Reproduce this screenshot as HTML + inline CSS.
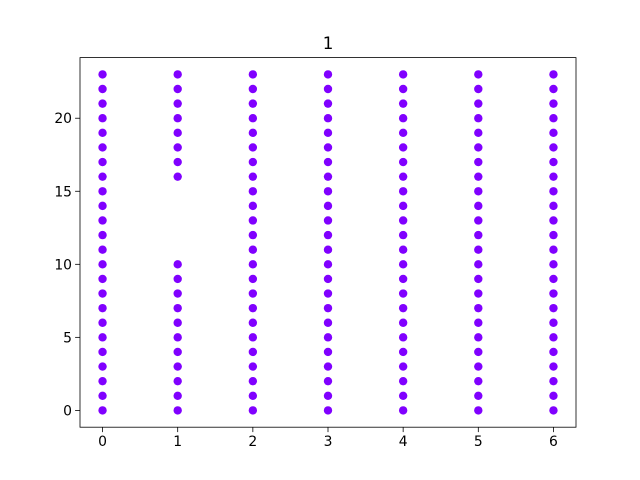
<!DOCTYPE html>
<html><head><meta charset="utf-8"><style>body{margin:0;background:#fff}svg{display:block}text{font-family:"DejaVu Sans","Liberation Sans",sans-serif;font-size:13.9px;fill:#000}</style></head>
<body>
<svg id="chart" width="640" height="480">
<rect x="0" y="0" width="640" height="480" fill="#fff"/>
<text x="328" y="49" text-anchor="middle" font-size="16.7" style="font-size:16.7px">1</text>
<g id="marks"></g>
<g id="axes"></g>
</svg>
<script>
const xCats=[0,1,2,3,4,5,6];
const yFull=[0,1,2,3,4,5,6,7,8,9,10,11,12,13,14,15,16,17,18,19,20,21,22,23];
const yCol1=[0,1,2,3,4,5,6,7,8,9,10,16,17,18,19,20,21,22,23];
const xTicks=[0,1,2,3,4,5,6];
const yTicks=[0,5,10,15,20];
const L=80,R=576,T=57.6,B=427.2;
const xmin=-0.3,xmax=6.3,ymin=-1.15,ymax=24.15;
const sx=v=>L+(v-xmin)/(xmax-xmin)*(R-L);
const sy=v=>B-(v-ymin)/(ymax-ymin)*(B-T);
const NS='http://www.w3.org/2000/svg';
const marks=document.getElementById('marks'),axes=document.getElementById('axes');
xCats.forEach(x=>{
  const ys=x===1?yCol1:yFull;
  ys.forEach(y=>{
    const c=document.createElementNS(NS,'circle');
    c.setAttribute('cx',sx(x));c.setAttribute('cy',sy(y));c.setAttribute('r',4.2);c.setAttribute('fill','#8000ff');
    
    
    marks.appendChild(c);
  });
});
const fr=document.createElementNS(NS,'rect');
fr.setAttribute('x',L);fr.setAttribute('y',T);fr.setAttribute('width',R-L);fr.setAttribute('height',B-T);
fr.setAttribute('fill','none');fr.setAttribute('stroke','#000');fr.setAttribute('stroke-width','0.8');


axes.appendChild(fr);
xTicks.forEach(t=>{
  const l=document.createElementNS(NS,'line');
  l.setAttribute('x1',sx(t));l.setAttribute('x2',sx(t));l.setAttribute('y1',B);l.setAttribute('y2',B+4.9);l.setAttribute('stroke','#000');l.setAttribute('stroke-width','0.8');
  
  
  axes.appendChild(l);
  const tx=document.createElementNS(NS,'text');
  tx.setAttribute('x',sx(t));tx.setAttribute('y',B+19);tx.setAttribute('text-anchor','middle');tx.textContent=t;
  
  
  axes.appendChild(tx);
});
yTicks.forEach(t=>{
  const l=document.createElementNS(NS,'line');
  l.setAttribute('x1',L-4.9);l.setAttribute('x2',L);l.setAttribute('y1',sy(t));l.setAttribute('y2',sy(t));l.setAttribute('stroke','#000');l.setAttribute('stroke-width','0.8');
  
  
  axes.appendChild(l);
  const tx=document.createElementNS(NS,'text');
  tx.setAttribute('x',L-8);tx.setAttribute('y',sy(t)+5);tx.setAttribute('text-anchor','end');tx.textContent=t;
  
  
  axes.appendChild(tx);
});
</script>
</body></html>
